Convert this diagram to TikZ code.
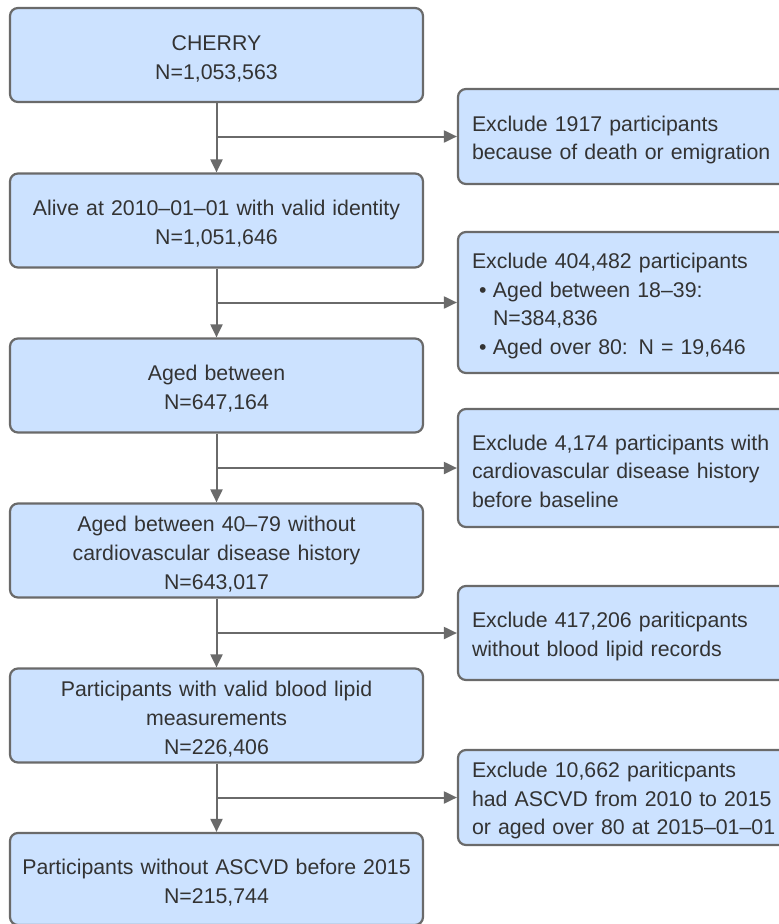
\documentclass[tikz,border=0pt]{standalone}
\usepackage{fontspec}
\setmainfont{Liberation Sans}
\usetikzlibrary{arrows.meta}
\definecolor{boxfill}{HTML}{CCE2FF}
\definecolor{boxline}{HTML}{6A6A6A}
\definecolor{txt}{HTML}{333333}
% taller first line pushes the text block slightly downward in its box
\newcommand{\firststrut}{\rule{0pt}{22pt}}
\tikzset{
  mainbox/.style={draw=boxline, fill=boxfill, line width=2.2pt, rounded corners=8pt,
    minimum width=413pt, text width=400pt, align=center, inner sep=0pt,
    text=txt, font=\fontsize{21.3}{29}\selectfont,
    execute at begin node=\firststrut},
  sidebox/.style={draw=boxline, fill=boxfill, line width=2.2pt, rounded corners=8pt,
    minimum width=342pt, text width=314pt, align=left, inner xsep=14pt, inner ysep=0pt,
    text=txt, font=\fontsize{21.3}{28.5}\selectfont,
    execute at begin node=\firststrut},
  flow/.style={draw=boxline, line width=2pt, -{Triangle[length=13pt,width=12pt]}}
}
\begin{document}
\begin{tikzpicture}[x=1pt,y=-1pt]
\useasboundingbox (0,0) rectangle (779,924);
\fill[white] (0,0) rectangle (779,924);
\clip (0,0) rectangle (779,924);

% main column
\node[mainbox, minimum height=94pt] (c1) at (216.5,55) {CHERRY\\N=1,053,563};
\node[mainbox, minimum height=94pt] (c2) at (216.5,220.5) {Alive at 2010--01--01 with valid identity\\N=1,051,646};
\node[mainbox, minimum height=94pt] (c3) at (216.5,385.5) {Aged between\\N=647,164};
\node[mainbox, minimum height=94pt] (c4) at (216.5,550.5) {Aged between 40--79 without\\cardiovascular disease history\\N=643,017};
\node[mainbox, minimum height=94pt] (c5) at (216.5,715.5) {Participants with valid blood lipid\\measurements\\N=226,406};
\node[mainbox, minimum height=92pt] (c6) at (216.5,879) {Participants without ASCVD before 2015\\N=215,744};

% exclusion boxes
\node[sidebox, minimum height=95pt] (r1) at (629,136.5) {Exclude 1917 participants\\because of death or emigration};
\node[sidebox, minimum height=141pt] (r2) at (629,302.5) {Exclude 404,482 participants\\
  \hspace*{7pt}\textbullet\hspace{6.5pt}Aged between 18--39:\\
  \hspace*{21pt}N=384,836\\
  \hspace*{7pt}\textbullet\hspace{6.5pt}Aged over 80: N = 19,646};
\node[sidebox, minimum height=118pt] (r3) at (629,468) {Exclude 4,174 participants with\\cardiovascular disease history\\before baseline};
\node[sidebox, minimum height=94pt] (r4) at (629,633) {Exclude 417,206 pariticpants\\without blood lipid records};
\node[sidebox, minimum height=95pt] (r5) at (629,797.5) {Exclude 10,662 pariticpants\\had ASCVD from 2010 to 2015\\or aged over 80 at 2015--01--01};

% connectors
\draw[flow] (c1.south) -- (c2.north);
\draw[flow] (c2.south) -- (c3.north);
\draw[flow] (c3.south) -- (c4.north);
\draw[flow] (c4.south) -- (c5.north);
\draw[flow] (c5.south) -- (c6.north);
\draw[flow] (c1.south |- r1.west) -- (r1.west);
\draw[flow] (c2.south |- r2.west) -- (r2.west);
\draw[flow] (c3.south |- r3.west) -- (r3.west);
\draw[flow] (c4.south |- r4.west) -- (r4.west);
\draw[flow] (c5.south |- r5.west) -- (r5.west);
\end{tikzpicture}
\end{document}
